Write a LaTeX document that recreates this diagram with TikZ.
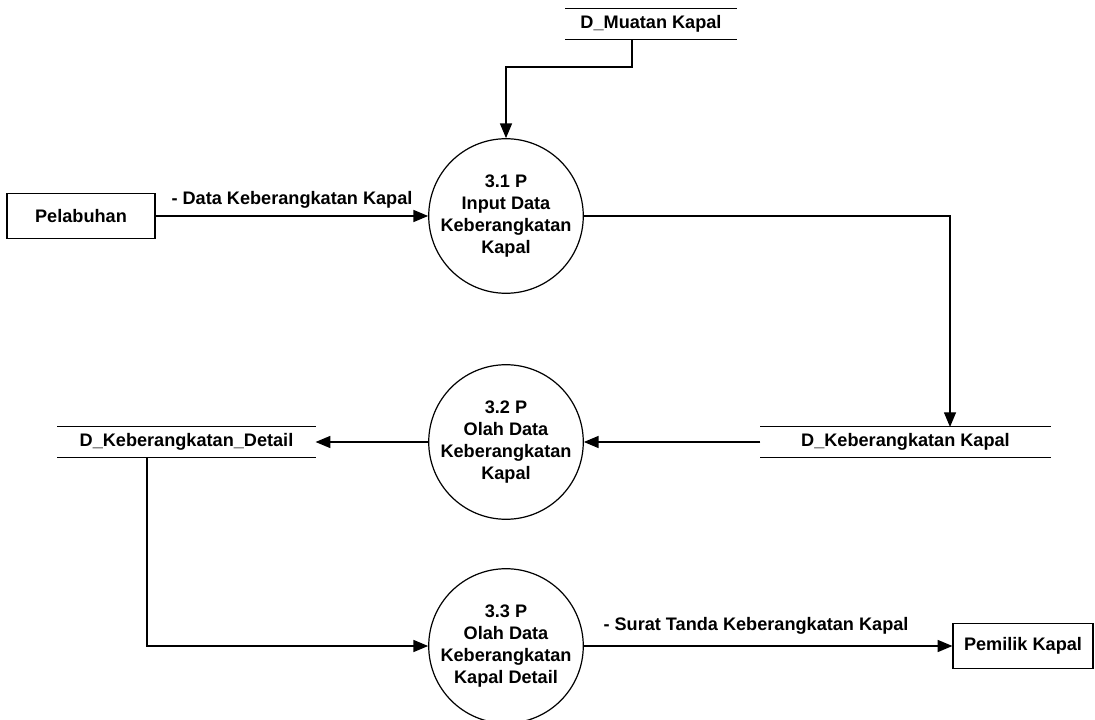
\documentclass[tikz,border=0pt]{standalone}
\usepackage{fontspec}
\setmainfont{Liberation Sans}
\usetikzlibrary{arrows.meta}

\begin{document}
\begin{tikzpicture}[x=0.75pt, y=-0.75pt, line width=0.9pt,
    font=\fontsize{13.6}{16.5}\selectfont\bfseries,
    proc/.style={draw, circle, minimum size=115.5pt, inner sep=0pt, align=center},
    entity/.style={draw, minimum height=33.75pt, inner sep=0pt},
    store/.style={minimum height=22.5pt, inner sep=0pt},
    flow/.style={-{Triangle[length=11pt, width=9pt]}}]
    \useasboundingbox (0,0) rectangle (1095,720);

    % External entities
    \node[entity, minimum width=111pt] (pelabuhan) at (81,216) {Pelabuhan};
    \node[entity, minimum width=105pt] (pemilik) at (1023,646) {Pemilik Kapal};

    % Processes
    \node[proc] (p31) at (506,216) {3.1 P\\Input Data\\Keberangkatan\\Kapal};
    \node[proc] (p32) at (506,442) {3.2 P\\Olah Data\\Keberangkatan\\Kapal};
    \node[proc] (p33) at (506,646) {3.3 P\\Olah Data\\Keberangkatan\\Kapal Detail};

    % Data stores
    \node[store, minimum width=127.5pt] (muatan) at (651,24) {D\_Muatan Kapal};
    \node[store, minimum width=216.75pt] (kapal) at (905.5,442) {D\_Keberangkatan Kapal};
    \node[store, minimum width=192.75pt] (detail) at (186.5,442) {D\_Keberangkatan\_Detail};
    \foreach \s in {muatan, kapal, detail} {
        \draw (\s.north west) -- (\s.north east);
        \draw (\s.south west) -- (\s.south east);
    }

    % Bend points
    \coordinate (m1) at (632,67);
    \coordinate (k1) at (950,427);
    \coordinate (d1) at (147,646);

    % Flows
    \draw[flow] (muatan.south -| m1) -- (m1) -| (p31.north);
    \draw[flow] (pelabuhan.east) -- (p31.west);
    \node (lbl1) at (292,200) {- Data Keberangkatan Kapal};
    \draw[flow] (p31.east) -| (k1);
    \draw[flow] (kapal.west) -- (p32.east);
    \draw[flow] (p32.west) -- (detail.east);
    \draw[flow] (detail.south -| d1) |- (p33.west);
    \draw[flow] (p33.east) -- (pemilik.west);
    \node (lbl2) at (756,626) {- Surat Tanda Keberangkatan Kapal};
\end{tikzpicture}
\end{document}
